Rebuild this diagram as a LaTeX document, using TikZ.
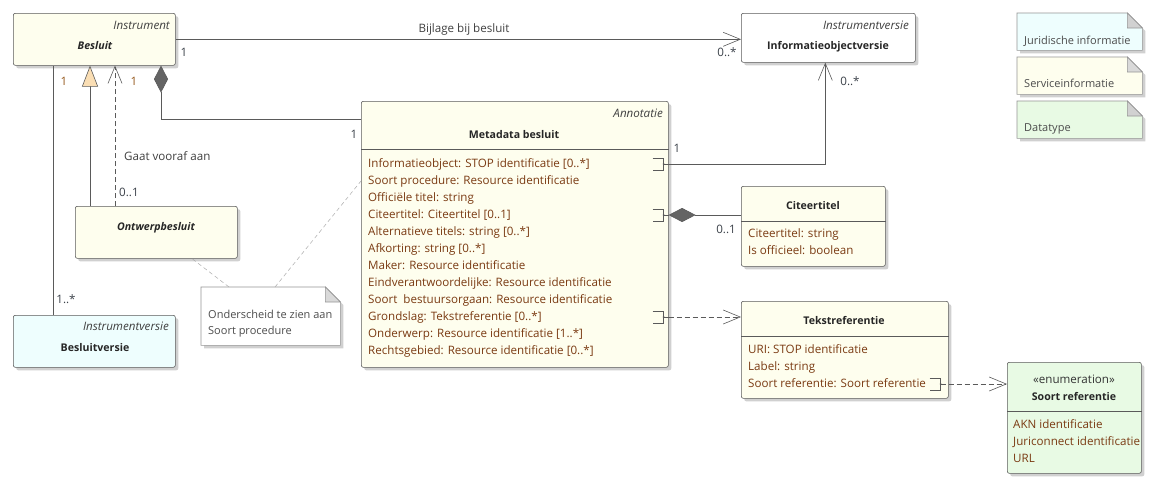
\documentclass[tikz,border=0pt]{standalone}
\usepackage{fontspec}
\setmainfont{Open Sans}
\usetikzlibrary{arrows.meta,positioning,calc,shadows}
\definecolor{cLine}{RGB}{90,90,90}
\definecolor{cSvc}{RGB}{254,254,238}
\definecolor{cJur}{RGB}{238,254,254}
\definecolor{cDtp}{RGB}{232,250,228}
\definecolor{cShadow}{RGB}{208,208,208}
\definecolor{cAttr}{RGB}{122,58,18}
\definecolor{cMult}{RGB}{60,66,74}
\definecolor{cMultB}{RGB}{150,90,30}
\definecolor{cTan}{RGB}{250,222,180}
\definecolor{cDiam}{RGB}{100,100,100}
\definecolor{cNote}{RGB}{150,150,150}
\newcommand\umlfont{\fontsize{11.6}{13}\selectfont}
\newcommand\umlbold{\fontsize{10.6}{12}\selectfont\bfseries}
\newcommand\dogear[3]{%
  \fill[cShadow] ([shift={(3pt,-3pt)}]#1.north west) -- ([shift={(-12pt,-3pt)}]#1.north east)
    -- ([shift={(3pt,-18pt)}]#1.north east) -- ([shift={(3pt,-3pt)}]#1.south east)
    -- ([shift={(3pt,-3pt)}]#1.south west) -- cycle;
  \filldraw[fill=#2, draw=cNote, line width=0.6pt] (#1.north west) -- ([xshift=-15pt]#1.north east)
    -- ([yshift=-15pt]#1.north east) -- (#1.south east) -- (#1.south west) -- cycle;
  \filldraw[fill=#3, draw=cNote, line width=0.6pt] ([xshift=-15pt]#1.north east)
    -- ([xshift=-15pt,yshift=-15pt]#1.north east) -- ([yshift=-15pt]#1.north east) -- cycle;}
\tikzset{
  cbox/.style={draw=cLine, line width=0.6pt, rounded corners=2pt, anchor=north west,
    inner sep=0pt, drop shadow={shadow xshift=3pt, shadow yshift=-3pt, fill=cShadow, opacity=1}},
  nbox/.style={anchor=north west, inner sep=0pt},
  ttxt/.style={inner sep=0pt, text height=9pt, text depth=2pt, font=\umlfont},
  stype/.style={ttxt, anchor=east, font=\umlfont\itshape, text=black!75},
  cname/.style={ttxt, font=\umlbold, text=black!85},
  attr/.style={ttxt, anchor=west, text=cAttr},
  ntxt/.style={ttxt, anchor=west, text=black!70, font=\fontsize{11}{13}\selectfont},
  mult/.style={ttxt, text=cMult},
  portline/.style={draw=cLine, line width=0.6pt},
  port/.pic={\draw[portline] (-16,-6) -- (-5,-6) -- (-5,6) -- (-16,6);
    \draw[portline] (-5,0) -- (0,0); \fill[cLine] (-5,0) circle (1pt);},
  link/.style={draw=cLine, line width=0.6pt},
  uarr/.style={link, -{Straight Barb[length=17pt,width=14pt]}},
  dep/.style={uarr, dash pattern=on 5pt off 3pt},
  gen/.style={link, -{Triangle[length=21pt,width=16pt,fill=cTan]}},
  comp/.style={link, {Diamond[length=27pt,width=14pt,fill=cDiam]}-},
  nline/.style={draw=cNote!80, line width=0.5pt, dash pattern=on 4pt off 3pt},
}
\begin{document}
\begin{tikzpicture}[x=1pt,y=-1pt]
\useasboundingbox[fill=white] (0,0) rectangle (1161,491);
% classes
\node[cbox, fill=cSvc, minimum width=162pt, minimum height=52pt] (besluit) at (13,13) {};
\node[stype] (besluit-st) at (170,26) {Instrument};
\node[cname, font=\umlbold\itshape] (besluit-nm) at (95,46) {Besluit};

\node[cbox, fill=white, minimum width=174pt, minimum height=49pt] (iov) at (741,13) {};
\node[stype] (iov-st) at (909,26) {Instrumentversie};
\node[cname] (iov-nm) at (828,46) {Informatieobjectversie};

\node[cbox, fill=cSvc, minimum width=162pt, minimum height=52pt] (ontwerp) at (75,206) {};
\node[cname, font=\umlbold\itshape] (ontwerp-nm) at (156,227) {Ontwerpbesluit};

\node[cbox, fill=cJur, minimum width=162pt, minimum height=52pt] (bv) at (13,315) {};
\node[stype] (bv-st) at (169,327) {Instrumentversie};
\node[cname] (bv-nm) at (95,348) {Besluitversie};

\node[cbox, fill=cSvc, minimum width=307pt, minimum height=266pt] (meta) at (361,101) {};
\node[stype] (meta-st) at (663,114) {Annotatie};
\node[cname] (meta-nm) at (514,135) {Metadata besluit};
\draw[link] (meta.west |- 0,149) -- (meta.east |- 0,149);
\foreach \a [count=\i from 0] in {{Informatieobject: STOP identificatie [0..*]},
  {Soort procedure: Resource identificatie}, {Officiële titel: string},
  {Citeertitel: Citeertitel [0..1]}, {Alternatieve titels: string [0..*]},
  {Afkorting: string [0..*]}, {Maker: Resource identificatie},
  {Eindverantwoordelijke: Resource identificatie},
  {Soort~ bestuursorgaan: Resource identificatie}, {Grondslag: Tekstreferentie [0..*]},
  {Onderwerp: Resource identificatie [1..*]}, {Rechtsgebied: Resource identificatie [0..*]}}
  \node[attr] (meta-a\i) at (368,{164+17*\i}) {\a};

\node[cbox, fill=cSvc, minimum width=144pt, minimum height=80pt] (cite) at (741,186) {};
\node[cname] (cite-nm) at (813,206) {Citeertitel};
\draw[link] (cite.west |- 0,221) -- (cite.east |- 0,221);
\node[attr] (cite-a0) at (748,234) {Citeertitel: string};
\node[attr] (cite-a1) at (748,251) {Is officieel: boolean};

\node[cbox, fill=cSvc, minimum width=207pt, minimum height=97pt] (tref) at (741,301) {};
\node[cname] (tref-nm) at (844,321) {Tekstreferentie};
\draw[link] (tref.west |- 0,336) -- (tref.east |- 0,336);
\node[attr] (tref-a0) at (748,350) {URI: STOP identificatie};
\node[attr] (tref-a1) at (748,367) {Label: string};
\node[attr] (tref-a2) at (748,384) {Soort referentie: Soort referentie};

\node[cbox, fill=cDtp, minimum width=134pt, minimum height=111pt] (sref) at (1007,362) {};
\node[ttxt, text=black!80] (sref-st) at (1074,380) {«enumeration»};
\node[cname] (sref-nm) at (1074,397) {Soort referentie};
\draw[link] (sref.west |- 0,411) -- (sref.east |- 0,411);
\node[attr] (sref-a0) at (1013,425) {AKN identificatie};
\node[attr] (sref-a1) at (1013,442) {Juriconnect identificatie};
\node[attr] (sref-a2) at (1013,459) {URL};

% notes and legend
\node[nbox, minimum width=139pt, minimum height=58pt] (note) at (201,287) {};
\dogear{note}{white}{black!15}
\node[ntxt] (note-l0) at (208,315) {Onderscheid te zien aan};
\node[ntxt] (note-l1) at (208,331) {Soort procedure};

\node[nbox, minimum width=125pt, minimum height=37pt] (lg-jur) at (1017,13) {};
\dogear{lg-jur}{cJur}{black!18}
\node[ntxt] (lg-jur-t) at (1024,41) {Juridische informatie};
\node[nbox, minimum width=125pt, minimum height=37pt] (lg-svc) at (1017,57) {};
\dogear{lg-svc}{cSvc}{black!15}
\node[ntxt] (lg-svc-t) at (1024,84) {Serviceinformatie};
\node[nbox, minimum width=125pt, minimum height=37pt] (lg-dtp) at (1017,101) {};
\dogear{lg-dtp}{cDtp}{black!18}
\node[ntxt] (lg-dtp-t) at (1024,128) {Datatype};

% ports
\pic at (meta.east |- meta-a0.west) {port};
\pic at (meta.east |- meta-a3.west) {port};
\pic at (meta.east |- meta-a9.west) {port};
\pic at ([xshift=-3pt]tref.east |- tref-a2.west) {port};
\coordinate (pInfo) at (meta.east |- meta-a0.west);
\coordinate (pCite) at (meta.east |- meta-a3.west);
\coordinate (pGrond) at (meta.east |- meta-a9.west);
\coordinate (pSoort) at (tref.east |- tref-a2.west);

% connectors
\draw[uarr] (besluit.east) -- (besluit.east -| iov.west);
\node[ttxt, text=black!75] (lbl-bijlage) at (464,29) {Bijlage bij besluit};
\node[mult] (m-bijl-a) at (184,53) {1};
\node[mult] (m-bijl-b) at (727,53) {0..*};

\draw[link] ([xshift=40pt]besluit.south west) -- ([xshift=40pt]bv.north west);
\node[mult, text=cMultB] (m-bv-a) at (64,82) {1};
\node[mult] (m-bv-b) at (66,300) {1..*};

\draw[gen] ([xshift=15pt]ontwerp.north west) -- ([xshift=15pt]ontwerp.north west |- besluit.south);
\draw[dep] ([xshift=40pt]ontwerp.north west) -- ([xshift=40pt]ontwerp.north west |- besluit.south);
\node[ttxt, anchor=west, text=black!75] (lbl-gaat) at (124,157) {Gaat vooraf aan};
\node[mult, anchor=west] (m-gaat) at (119,193) {0..1};

\draw[comp] ([xshift=148pt]besluit.south west) |- ([yshift=-18pt]meta.north west);
\node[mult, text=cMultB] (m-meta-a) at (134,82) {1};
\node[mult] (m-meta-b) at (354,135) {1};

\draw[uarr] (pInfo) -| ([xshift=-3pt]iov.south);
\node[mult] (m-info-a) at (677,149) {1};
\node[mult] (m-info-b) at (850,82) {0..*};

\draw[comp] (pCite) -- (pCite -| cite.west);
\node[mult] (m-cite) at (726,230) {0..1};

\draw[dep] (pGrond) -- (pGrond -| tref.west);
\draw[dep] (pSoort) -- (pSoort -| sref.west);

\draw[nline] ([xshift=28pt]note.north west) -- ([xshift=117pt]ontwerp.south west);
\draw[nline] ([xshift=74pt]note.north west) -- (meta.west |- meta-a1.west);
\end{tikzpicture}
\end{document}
